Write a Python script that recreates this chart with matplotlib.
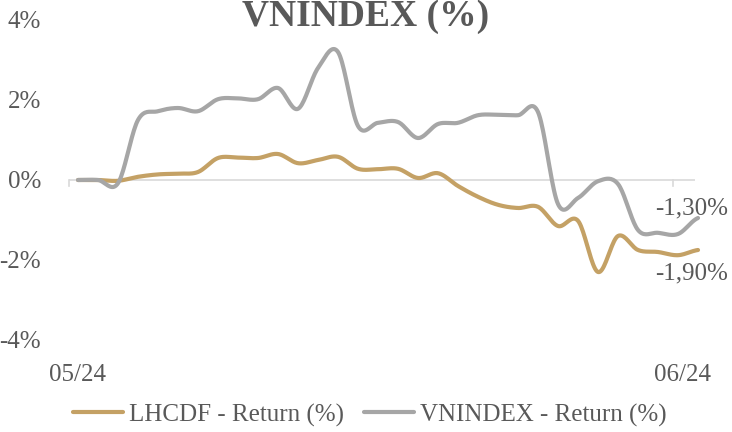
import numpy as np
import matplotlib
matplotlib.use("Agg")
import matplotlib.pyplot as plt

# daily returns (%)
lhcdf = [0, 0, -0.02, 0.08, 0.14, 0.16, 0.2, 0.55, 0.56, 0.55, 0.65, 0.42,
         0.5, 0.58, 0.28, 0.27, 0.28, 0.05, 0.17, -0.15, -0.42, -0.62, -0.7,
         -0.67, -1.15, -1.02, -2.3, -1.4, -1.75, -1.8, -1.88, -1.75]
vnindex = [0, 0, -0.08, 1.5, 1.72, 1.8, 1.72, 2.02, 2.04, 2.02, 2.3, 1.78,
           2.8, 3.2, 1.35, 1.43, 1.45, 1.05, 1.4, 1.43, 1.62, 1.63, 1.62,
           1.7, -0.6, -0.45, -0.03, -0.1, -1.25, -1.32, -1.35, -0.95]
series_names = ["LHCDF - Return (%)", "VNINDEX - Return (%)"]
x_labels = ["05/24", "06/24"]
end_labels = ["-1,30%", "-1,90%"]
y_ticks = [-4, -2, 0, 2, 4]

GOLD = "#c4a165"
GRAY = "#a6a6a6"
TXT = "#595959"
FONT = "Liberation Serif"
FS = 18


def smooth(y, n=20):
    # catmull-rom, like excel's smoothed line
    y = np.asarray(y, float)
    p = np.concatenate([[y[0]], y, [y[-1]]])
    xs, ys = [], []
    t = np.linspace(0, 1, n, endpoint=False)
    for i in range(len(y) - 1):
        p0, p1, p2, p3 = p[i], p[i + 1], p[i + 2], p[i + 3]
        yy = 0.5 * ((2 * p1) + (-p0 + p2) * t + (2 * p0 - 5 * p1 + 4 * p2 - p3) * t ** 2
                    + (-p0 + 3 * p1 - 3 * p2 + p3) * t ** 3)
        xs.append(i + t)
        ys.append(yy)
    xs.append([len(y) - 1])
    ys.append([y[-1]])
    return np.concatenate(xs), np.concatenate(ys)


fig = plt.figure(figsize=(7.32, 4.32), dpi=100)
ax = fig.add_axes([69 / 732, 92 / 432, 626 / 732, 320 / 432])

for data, c, name in [(lhcdf, GOLD, series_names[0]), (vnindex, GRAY, series_names[1])]:
    sx, sy = smooth(data)
    ax.plot(sx, sy, color=c, lw=3, label=name, clip_on=False, solid_capstyle="round")

ax.set_xlim(-0.45, 30.85)
ax.set_ylim(-4, 4)
ax.axhline(0, color="#d9d9d9", lw=1.2, zorder=0)
for s in ax.spines.values():
    s.set_visible(False)

ax.set_yticks(y_ticks)
ax.set_yticklabels([f"{v}%" for v in y_ticks], fontsize=FS, color=TXT, family=FONT)
ax.tick_params(axis="y", length=0, pad=20)

# tick marks hang off the zero line
ax.set_xticks([])
for xt in [-0.45, 29.75]:
    ax.plot([xt, xt], [0, -0.14], color="#d9d9d9", lw=1.2, clip_on=False)

for xl, lab in zip([0, 30.25], x_labels):
    ax.text(xl, -4.875, lab, ha="center", va="center", fontsize=FS, color=TXT, family=FONT)

ax.text(32.5, -0.7, end_labels[0], ha="right", va="center", fontsize=FS, color=TXT, family=FONT,
        clip_on=False)
ax.text(32.5, -2.33, end_labels[1], ha="right", va="center", fontsize=FS, color=TXT, family=FONT,
        clip_on=False)

fig.text(0.5, 1 - 17 / 432, "VNINDEX (%)", ha="center", va="center", fontsize=27,
         fontweight="bold", color=TXT, family=FONT)

leg = fig.legend(loc="center", bbox_to_anchor=(370 / 732, 1 - 415 / 432), ncol=2, frameon=False,
                 prop={"family": FONT, "size": FS}, handlelength=2.0, handletextpad=0.25,
                 columnspacing=0.8)
for t in leg.get_texts():
    t.set_color(TXT)

fig.savefig("out.png", dpi=100)
